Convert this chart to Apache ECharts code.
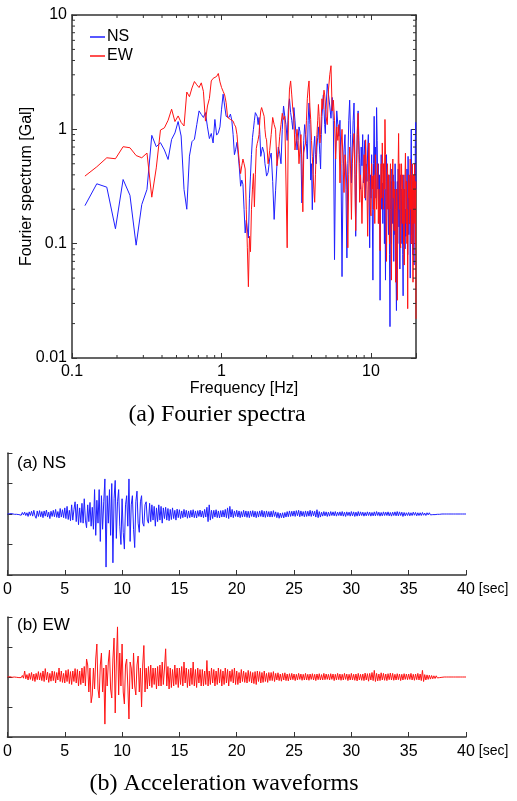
<!DOCTYPE html>
<html><head><meta charset="utf-8">
<script src="https://cdn.jsdelivr.net/npm/echarts@6/dist/echarts.min.js"></script>
<style>html,body{margin:0;padding:0;background:#fff}#c{width:517px;height:801px}</style>
</head><body><div id="c"></div><script>
// ---------- Fourier spectra (Gal) ----------
// low band: f = k * LOW_DF, k starting at LOW_K0
const LOW_DF = 0.02441, LOW_K0 = 5;
const MID_F0 = 2.05, MID_DF = 0.05;
const HIGH_F0 = 5.1, HIGH_DF = 0.1;

const nsLow = [0.215,0.334,0.312,0.135,0.364,0.265,0.097,0.22,0.298,0.886,
0.705,0.764,0.66,0.545,0.817,0.93,1.17,0.874,0.298,0.20,
0.583,0.78,0.82,1.1,1.45,1.35,1.27,1.4,1.05,0.83,
0.92,0.76,1.22,0.89,0.93,1.05,1.5,2.03,1.6,1.3,
1.25,1.27,1.36,1.2,0.9,0.6,0.67,0.77,0.6,0.45,
0.318,0.36,0.33,0.2,0.124,0.16,0.16,0.112,0.25,0.39,
0.6,0.845,1.0,1.2,1.4,1.35,1.3,1.1,1.27,0.9,
0.58,0.6,0.7,0.66,0.62,0.5,0.45,0.39];
const ewLow = [0.39,0.47,0.564,0.553,0.705,0.69,0.59,0.564,0.62,0.255,
0.46,0.986,1.03,1.2,1.5,1.17,1.31,1.15,1.07,2.12,
1.93,2.3,2.62,2.45,2.32,2.55,2.15,1.18,1.6,1.86,
2.65,2.79,2.79,2.9,3.08,2.6,2.32,2.15,2.0,1.71,
1.27,1.25,1.22,1.22,1.18,1.1,1.05,0.9,0.66,0.5,
0.41,0.48,0.55,0.5,0.45,0.2,0.092,0.042,0.116,0.085,
0.2,0.3,0.41,0.21,0.4,0.68,0.75,0.81,0.9,1.2,
1.45,1.55,1.6,1.6,1.3,1.0,0.85,0.81];
const nsMid = [0.42,0.55,0.62,0.35,0.163,0.29,0.5,0.70,0.62,0.50,
1.0,1.6,1.3,1.1,0.8,1.5,1.85,1.4,1.2,1.0,
1.55,1.2,0.9,0.66,0.8,1.05,0.95,0.6,0.227,0.4,
0.8,1.1,0.9,0.75,0.55,1.2,1.7,1.1,0.36,0.5,
0.198,0.4,0.7,0.87,0.6,0.5,0.7,0.85,1.05,0.8,
0.6,0.45,0.9,1.3,1.6,2.0,1.5,1.1,0.92,1.5];
const ewMid = [0.5,0.65,0.9,1.27,1.1,1.0,0.48,0.6,0.87,1.1,
1.38,1.22,1.3,1.27,0.092,1.2,2.25,2.65,2.0,1.5,
1.27,0.66,0.8,1.0,0.8,0.5,0.7,0.9,0.5,0.19,
0.62,0.7,0.76,1.2,1.85,2.3,2.65,1.6,1.22,0.8,
0.58,0.4,0.3,0.23,0.4,0.66,0.9,1.2,1.65,1.3,
0.76,0.9,1.3,1.85,1.5,1.9,2.2,2.0,1.7,1.3];
const nsHigh = [2.5,2.57,1.6,1.25,1.9,1.2,0.0725,0.6,1.45,1.1,
0.87,1.2,0.5,0.0515,0.4,0.66,0.9,0.3,0.075,0.5,
1.2,1.8,0.9,0.34,0.7,1.2,1.7,0.6,0.116,0.4,
0.9,1.45,0.8,0.5,0.3,0.7,0.48,0.9,0.34,0.6,
0.8,0.24,0.5,0.35,0.66,0.9,0.3,0.092,0.4,0.25,
0.6,0.2,0.048,0.5,1.3,0.4,0.7,0.25,1.55,0.8,
0.3,0.5,0.15,0.4,0.032,0.25,0.6,0.2,0.34,0.15,
0.5,0.28,0.1,0.3,0.048,0.35,0.6,0.2,0.39,0.25,
0.12,0.4,0.08,0.0188,0.2,0.35,0.1,0.45,0.15,0.227,
0.4,0.07,0.3,0.12,0.5,0.2,0.06,0.026,0.2,0.35,
0.1,0.45,0.2,0.14,0.3,0.06,0.25,0.4,0.15,0.30,
0.1,0.25,0.08,0.035,0.2,0.4,0.12,0.3,0.09,0.2,
0.116,0.35,0.15,0.45,0.2,0.08,0.58,0.3,0.12,0.4,
0.15,0.26,0.05,0.3,0.6,1.0,0.4,0.12,0.3,0.08,
0.35,0.18,0.1,0.065,0.3,0.5,0.2,0.8,1.15,0.3];
const ewHigh = [1.1,2.25,3.0,3.6,1.45,1.8,1.2,0.55,1.05,0.8,
1.1,0.34,0.7,1.0,0.5,0.28,0.6,0.48,0.3,0.092,
0.4,0.70,0.45,0.163,0.5,0.7,0.92,0.4,0.13,0.5,
1.0,1.38,0.6,0.23,0.4,0.3,0.15,0.3,0.39,0.6,
0.25,0.81,0.5,0.3,0.116,0.4,0.76,0.35,0.2,0.175,
0.5,0.3,0.39,0.2,0.4,0.15,0.6,0.3,0.2,0.39,
0.5,0.15,0.3,0.2,0.087,0.3,0.5,0.25,0.76,0.4,
0.2,0.5,0.3,1.22,0.6,0.2,0.07,0.3,0.5,0.2,
0.4,0.21,0.1,0.3,0.5,0.2,0.048,0.2,0.4,0.55,
0.25,0.35,0.13,0.3,0.2,0.046,0.15,0.3,0.1,0.032,
0.2,0.5,0.92,0.4,0.2,0.5,0.1,0.092,0.3,0.5,
0.30,0.15,0.4,0.2,0.1,0.3,0.065,0.2,0.4,0.62,
0.3,0.15,0.35,0.1,0.2,0.027,0.2,0.4,0.25,0.34,
0.15,0.3,0.55,0.2,0.4,0.1,0.3,0.15,0.5,0.2,
0.046,0.25,0.4,0.15,0.3,0.5,0.2,0.1,0.35,0.022];

const specXTicks = [0.1, 1, 10];
const specYTicks = [0.01, 0.1, 1, 10];
const xMinor = [0.2,0.3,0.4,0.5,0.6,0.7,0.8,0.9,2,3,4,5,6,7,8,9];
const yMinor = [0.02,0.03,0.04,0.05,0.06,0.07,0.08,0.09,0.2,0.3,0.4,0.5,0.6,0.7,0.8,0.9,2,3,4,5,6,7,8,9];

// ---------- Acceleration waveforms, sampled every DT seconds ----------
const DT = 0.1;
const nsWave = [
0,0,0.01,-0.01,0.01,0,-0.01,0.02,-0.01,0.01,
-0.02,0.03,-0.04,0.05,-0.03,0.06,-0.05,0.04,-0.08,0.07,
-0.05,0.09,-0.07,0.12,-0.06,-0.14,0.1,-0.08,0.11,-0.09,
0.08,-0.12,0.1,-0.07,0.13,-0.1,0.06,-0.15,0.09,-0.08,
0.12,-0.09,0.15,-0.11,0.08,-0.13,0.18,-0.1,0.14,-0.12,
0.2,-0.15,0.25,-0.18,0.12,-0.22,0.3,-0.2,0.15,0.4,
-0.25,0.32,-0.35,0.2,-0.28,0.35,-0.3,0.5,-0.2,-0.45,
0.3,-0.25,0.38,-0.4,0.22,-0.5,0.8,-0.7,0.45,-0.3,
0.8,-0.9,0.6,-0.5,0.4,1.15,-1.74,0.6,-0.3,0.8,
-0.7,1.0,-1.6,0.5,1.1,-0.8,0.4,0.8,-0.4,-1.0,
0.5,-0.6,-1.15,0.3,0.6,-0.4,1.15,-0.9,0.3,0.6,
-0.5,-1.1,0.4,0.75,-0.3,-0.6,0.4,0.6,-0.3,-0.4,
0.3,0.4,-0.2,-0.3,0.35,-0.25,0.3,-0.2,0.25,-0.4,
0.2,-0.25,0.3,-0.2,0.25,-0.3,0.2,-0.15,0.22,-0.2,
0.18,-0.22,0.15,-0.18,0.2,-0.15,0.12,-0.2,0.16,-0.12,
0.14,-0.15,0.1,-0.12,0.15,-0.1,0.12,-0.14,0.1,-0.12,
0.12,-0.1,0.14,-0.12,0.1,-0.13,0.11,-0.08,0.13,-0.1,
0.1,-0.12,0.15,-0.1,0.22,-0.25,0.3,-0.2,0.12,-0.15,
0.12,-0.1,0.14,-0.12,0.1,-0.13,0.11,-0.1,0.12,-0.1,
0.15,-0.12,0.2,-0.15,0.25,-0.1,0.15,-0.12,0.1,-0.08,
0.12,-0.1,0.1,-0.12,0.08,-0.1,0.12,-0.09,0.1,-0.11,
0.09,-0.12,0.1,-0.08,0.11,-0.1,0.09,-0.12,0.08,-0.1,
0.1,-0.08,0.12,-0.1,0.09,-0.11,0.1,-0.09,0.08,-0.1,
0.09,-0.1,0.11,-0.08,0.07,-0.12,0.05,-0.14,0.03,-0.12,
0.04,-0.13,0.05,-0.1,0.08,-0.09,0.1,-0.08,0.09,-0.07,
0.1,-0.08,0.11,-0.06,0.12,-0.09,0.1,-0.07,0.08,-0.09,
0.1,-0.08,0.09,-0.07,0.12,-0.08,0.1,-0.06,0.09,-0.1,
0.14,-0.12,0.08,-0.1,0.06,-0.07,0.08,-0.06,0.07,-0.08,
0.06,-0.07,0.08,-0.05,0.07,-0.06,0.08,-0.07,0.06,-0.05,
0.07,-0.06,0.08,-0.07,0.06,-0.08,0.07,-0.05,0.06,-0.07,
0.08,-0.06,0.07,-0.08,0.06,-0.07,0.08,-0.06,0.07,-0.05,
0.06,-0.07,0.05,-0.06,0.07,-0.05,0.06,-0.07,0.05,-0.06,
0.07,-0.06,0.08,-0.05,0.06,-0.07,0.05,-0.06,0.07,-0.05,
0.06,-0.05,0.07,-0.06,0.05,-0.07,0.06,-0.05,0.07,-0.06,
0.08,-0.06,0.07,-0.05,0.06,-0.08,0.05,-0.06,0.04,-0.05,
0.05,-0.06,0.04,-0.05,0.06,-0.04,0.05,-0.06,0.04,-0.05,
0.04,-0.05,0.05,-0.04,0.03,-0.05,0.04,-0.03,0.04,-0.03,
0.03,-0.02,0.03,-0.02,0.02,-0.01,0.01,-0.01,0.01,0,
0,0,0,0,0,0,0,0,0,0,
0,0,0,0,0,0,0,0,0,0,
0];
const ewWave = [
0,0,0.01,0,-0.01,0.01,0,0.01,-0.01,0.02,
-0.02,0.03,-0.02,0.05,-0.04,0.2,-0.06,0.08,-0.1,0.12,
-0.08,0.15,-0.12,0.1,-0.15,0.12,-0.09,0.18,-0.1,0.14,
-0.12,0.2,-0.15,0.28,-0.1,0.16,-0.18,0.12,-0.14,0.2,
-0.12,0.18,-0.2,0.15,-0.1,0.3,-0.15,0.2,-0.18,0.12,
-0.2,0.22,-0.15,0.25,-0.22,0.18,-0.25,0.2,-0.15,0.28,
-0.2,0.25,-0.3,0.2,-0.25,0.3,-0.2,0.35,-0.3,0.6,
0.4,-0.5,0.3,-0.86,-0.6,0.3,-0.4,0.6,1.1,-0.4,
-0.7,0.4,0.8,-0.5,0.3,-1.57,0.4,-0.3,0.5,0.9,
-0.4,-0.7,0.6,1.3,-1.2,0.5,1.67,-0.6,0.8,-0.3,
1.1,-0.5,-0.9,0.4,0.6,-0.3,-1.4,0.5,0.3,-0.4,
0.8,-0.3,-0.6,0.4,0.7,-0.5,0.3,-1.0,0.4,1.05,
-0.5,0.3,-0.4,0.35,-0.3,0.4,-0.35,0.3,-0.25,0.3,
-0.4,0.35,-0.3,0.4,-0.3,0.5,-0.25,0.3,0.94,-0.3,
0.35,-0.4,0.3,-0.35,0.25,-0.3,0.4,-0.25,0.3,-0.35,
0.3,-0.25,0.35,-0.3,0.5,-0.2,0.3,-0.35,0.25,-0.3,
0.3,-0.25,0.5,-0.3,0.25,-0.35,0.3,-0.2,0.25,-0.3,
0.25,-0.3,0.2,-0.25,0.55,-0.3,0.2,-0.25,0.3,-0.2,
0.25,-0.3,0.2,-0.25,0.3,-0.2,0.25,-0.3,0.2,-0.25,
0.3,-0.2,0.25,-0.3,0.2,-0.15,0.25,-0.2,0.3,-0.25,
0.2,-0.25,0.15,-0.2,0.25,-0.15,0.2,-0.18,0.15,-0.2,
0.22,-0.15,0.18,-0.2,0.15,-0.22,0.18,-0.25,0.2,-0.15,
0.18,-0.2,0.15,-0.18,0.2,-0.15,0.12,-0.18,0.15,-0.12,
0.15,-0.12,0.18,-0.15,0.12,-0.1,0.14,-0.12,0.1,-0.14,
0.12,-0.1,0.14,-0.12,0.1,-0.13,0.11,-0.1,0.12,-0.09,
0.1,-0.12,0.09,-0.1,0.12,-0.08,0.1,-0.11,0.09,-0.1,
0.12,-0.1,0.09,-0.11,0.1,-0.08,0.11,-0.1,0.09,-0.12,
0.1,-0.09,0.11,-0.1,0.08,-0.1,0.12,-0.09,0.1,-0.08,
0.09,-0.1,0.11,-0.08,0.1,-0.12,0.09,-0.1,0.12,-0.09,
0.1,-0.11,0.09,-0.1,0.12,-0.08,0.1,-0.12,0.09,-0.1,
0.12,-0.1,0.09,-0.11,0.1,-0.13,0.12,-0.1,0.09,-0.11,
0.1,-0.12,0.13,-0.1,0.11,-0.14,0.12,-0.1,0.15,-0.12,
0.22,-0.15,0.12,-0.13,0.1,-0.12,0.14,-0.1,0.12,-0.11,
0.1,-0.12,0.11,-0.09,0.13,-0.1,0.12,-0.11,0.09,-0.1,
0.11,-0.09,0.1,-0.12,0.09,-0.1,0.11,-0.08,0.1,-0.09,
0.1,-0.08,0.12,-0.1,0.09,-0.11,0.1,-0.09,0.12,-0.1,
0.1,-0.12,0.22,-0.15,0.08,-0.1,0.07,-0.08,0.06,-0.07,
0.05,-0.06,0.04,-0.05,0.04,-0.03,0.03,-0.02,0.02,-0.01,
0,0,0,0,0,0,0,0,0,0,
0,0,0,0,0,0,0,0,0,0,
0];
const waveTicks = [0,5,10,15,20,25,30,35,40];

// ---------- assemble ----------
function buildSpec(low, mid, high) {
  const out = [];
  low.forEach((v, i) => out.push([(LOW_K0 + i) * LOW_DF, v]));
  mid.forEach((v, i) => out.push([+(MID_F0 + i * MID_DF).toFixed(3), v]));
  high.forEach((v, i) => out.push([+(HIGH_F0 + i * HIGH_DF).toFixed(3), v]));
  return out;
}
const waveData = arr => arr.map((v, i) => [+(i * DT).toFixed(2), v]);

const SANS = '"Liberation Sans", Arial, Helvetica, sans-serif';
const SERIF = '"Liberation Serif", "Times New Roman", serif';
const AX = '#333';
const BLUE = '#1f1fff', RED = '#ff1414';

function minorRender(kind) {
  return function (params, api) {
    const v = api.value(kind === 'x' ? 0 : 1);
    const st = { stroke: AX, lineWidth: 1 };
    if (kind === 'x') {
      const b = api.coord([v, 0.01]), t = api.coord([v, 10]);
      return { type: 'group', children: [
        { type: 'line', shape: { x1: b[0], y1: b[1], x2: b[0], y2: b[1] - 3 }, style: st },
        { type: 'line', shape: { x1: t[0], y1: t[1], x2: t[0], y2: t[1] + 3 }, style: st }
      ]};
    }
    const l = api.coord([0.1, v]), r = api.coord([20, v]);
    return { type: 'group', children: [
      { type: 'line', shape: { x1: l[0], y1: l[1], x2: l[0] + 3, y2: l[1] }, style: st },
      { type: 'line', shape: { x1: r[0], y1: r[1], x2: r[0] - 3, y2: r[1] }, style: st }
    ]};
  };
}

const near = (list, v) => list.some(t => Math.abs(t - v) / t < 1e-6);
const logX = (extra) => Object.assign({
  type: 'log', logBase: 10, min: 0.1, max: 20, gridIndex: 0,
  axisLine: { onZero: false, lineStyle: { color: AX, width: 1.5 } },
  axisTick: { inside: true, length: 5, lineStyle: { color: AX } },
  splitLine: { show: false },
  axisLabel: { fontSize: 16, fontFamily: SANS, color: '#000', margin: 6,
    formatter: v => near(specXTicks, v) ? String(v) : '' }
}, extra);
const logY = (extra) => Object.assign({
  type: 'log', logBase: 10, min: 0.01, max: 10, gridIndex: 0,
  axisLine: { onZero: false, lineStyle: { color: AX, width: 1.5 } },
  axisTick: { inside: true, length: 5, lineStyle: { color: AX } },
  splitLine: { show: false },
  axisLabel: { fontSize: 16, fontFamily: SANS, color: '#000', margin: 5,
    formatter: v => near(specYTicks, v) ? String(v) : '' }
}, extra);

const waveX = (gi) => ({
  type: 'value', gridIndex: gi, min: 0, max: 40, interval: 5, position: 'bottom',
  name: '[sec]', nameLocation: 'end', nameGap: 11,
  nameTextStyle: { fontSize: 14, fontFamily: SANS, color: '#000', verticalAlign: 'top', padding: [7, 0, 0, 0] },
  axisLine: { onZero: false, lineStyle: { color: AX, width: 1.5 } },
  axisTick: { inside: true, length: 5, lineStyle: { color: AX } },
  splitLine: { show: false },
  axisLabel: { fontSize: 16, fontFamily: SANS, color: '#000', margin: 7, showMaxLabel: true,
    formatter: v => waveTicks.includes(v) ? String(v) : '' }
});
const waveY = (gi) => ({
  type: 'value', gridIndex: gi, min: -2, max: 2, interval: 1, position: 'left',
  axisLine: { show: true, onZero: false, lineStyle: { color: AX, width: 1.5 } },
  axisTick: { show: true, inside: true, length: 5, lineStyle: { color: AX } },
  axisLabel: { show: false },
  splitLine: { show: false }
});

const chart = echarts.init(document.getElementById('c'), null, { renderer: 'canvas' });
chart.setOption({
  animation: false,
  backgroundColor: '#fff',
  grid: [
    { left: 72, top: 15, width: 344, height: 343 },
    { left: 5, top: 453, width: 461, height: 122 },
    { left: 5, top: 617, width: 461, height: 120 }
  ],
  legend: {
    data: [{ name: 'NS', icon: 'rect' }, { name: 'EW', icon: 'rect' }],
    orient: 'vertical', left: 85, top: 24,
    itemWidth: 15, itemHeight: 1.5, itemGap: 3,
    textStyle: { fontSize: 16, fontFamily: SANS, color: '#000', padding: [0, 0, 0, -3] }
  },
  xAxis: [
    logX({ name: 'Frequency [Hz]', nameLocation: 'middle', nameGap: 22,
      nameTextStyle: { fontSize: 16, fontFamily: SANS, color: '#000' } }),
    logX({ position: 'top', axisLabel: { show: false } }),
    waveX(1),
    waveX(2)
  ],
  yAxis: [
    logY({ name: 'Fourier spectrum [Gal]', nameLocation: 'middle', nameGap: 37, nameMoveOverlap: false,
      nameTextStyle: { fontSize: 16, fontFamily: SANS, color: '#000' } }),
    logY({ position: 'right', axisLabel: { show: false } }),
    waveY(1),
    waveY(2)
  ],
  series: [
    { name: 'NS', type: 'line', xAxisIndex: 0, yAxisIndex: 0, data: buildSpec(nsLow, nsMid, nsHigh),
      symbol: 'none', lineStyle: { color: BLUE, width: 1 }, itemStyle: { color: BLUE } },
    { name: 'EW', type: 'line', xAxisIndex: 0, yAxisIndex: 0, data: buildSpec(ewLow, ewMid, ewHigh),
      symbol: 'none', lineStyle: { color: RED, width: 1 }, itemStyle: { color: RED } },
    { type: 'custom', xAxisIndex: 0, yAxisIndex: 0, silent: true, z: 5,
      data: xMinor.map(v => [v, 1]), renderItem: minorRender('x') },
    { type: 'custom', xAxisIndex: 0, yAxisIndex: 0, silent: true, z: 5,
      data: yMinor.map(v => [1, v]), renderItem: minorRender('y') },
    { name: 'NS wave', type: 'line', xAxisIndex: 2, yAxisIndex: 2, data: waveData(nsWave),
      symbol: 'none', sampling: false, lineStyle: { color: BLUE, width: 1 } },
    { name: 'EW wave', type: 'line', xAxisIndex: 3, yAxisIndex: 3, data: waveData(ewWave),
      symbol: 'none', sampling: false, lineStyle: { color: RED, width: 1 } }
  ],
  graphic: [
    { type: 'text', left: 17, top: 455, style: { text: '(a) NS', font: '17px ' + SANS, fill: '#000' } },
    { type: 'text', left: 17, top: 617, style: { text: '(b) EW', font: '17px ' + SANS, fill: '#000' } },
    { type: 'text', x: 217, y: 415, style: { text: '(a) Fourier spectra', font: '24px ' + SERIF, fill: '#000', align: 'center', verticalAlign: 'middle' } },
    { type: 'text', x: 224, y: 784, style: { text: '(b) Acceleration waveforms', font: '24px ' + SERIF, fill: '#000', align: 'center', verticalAlign: 'middle' } }
  ]
});
</script></body></html>
